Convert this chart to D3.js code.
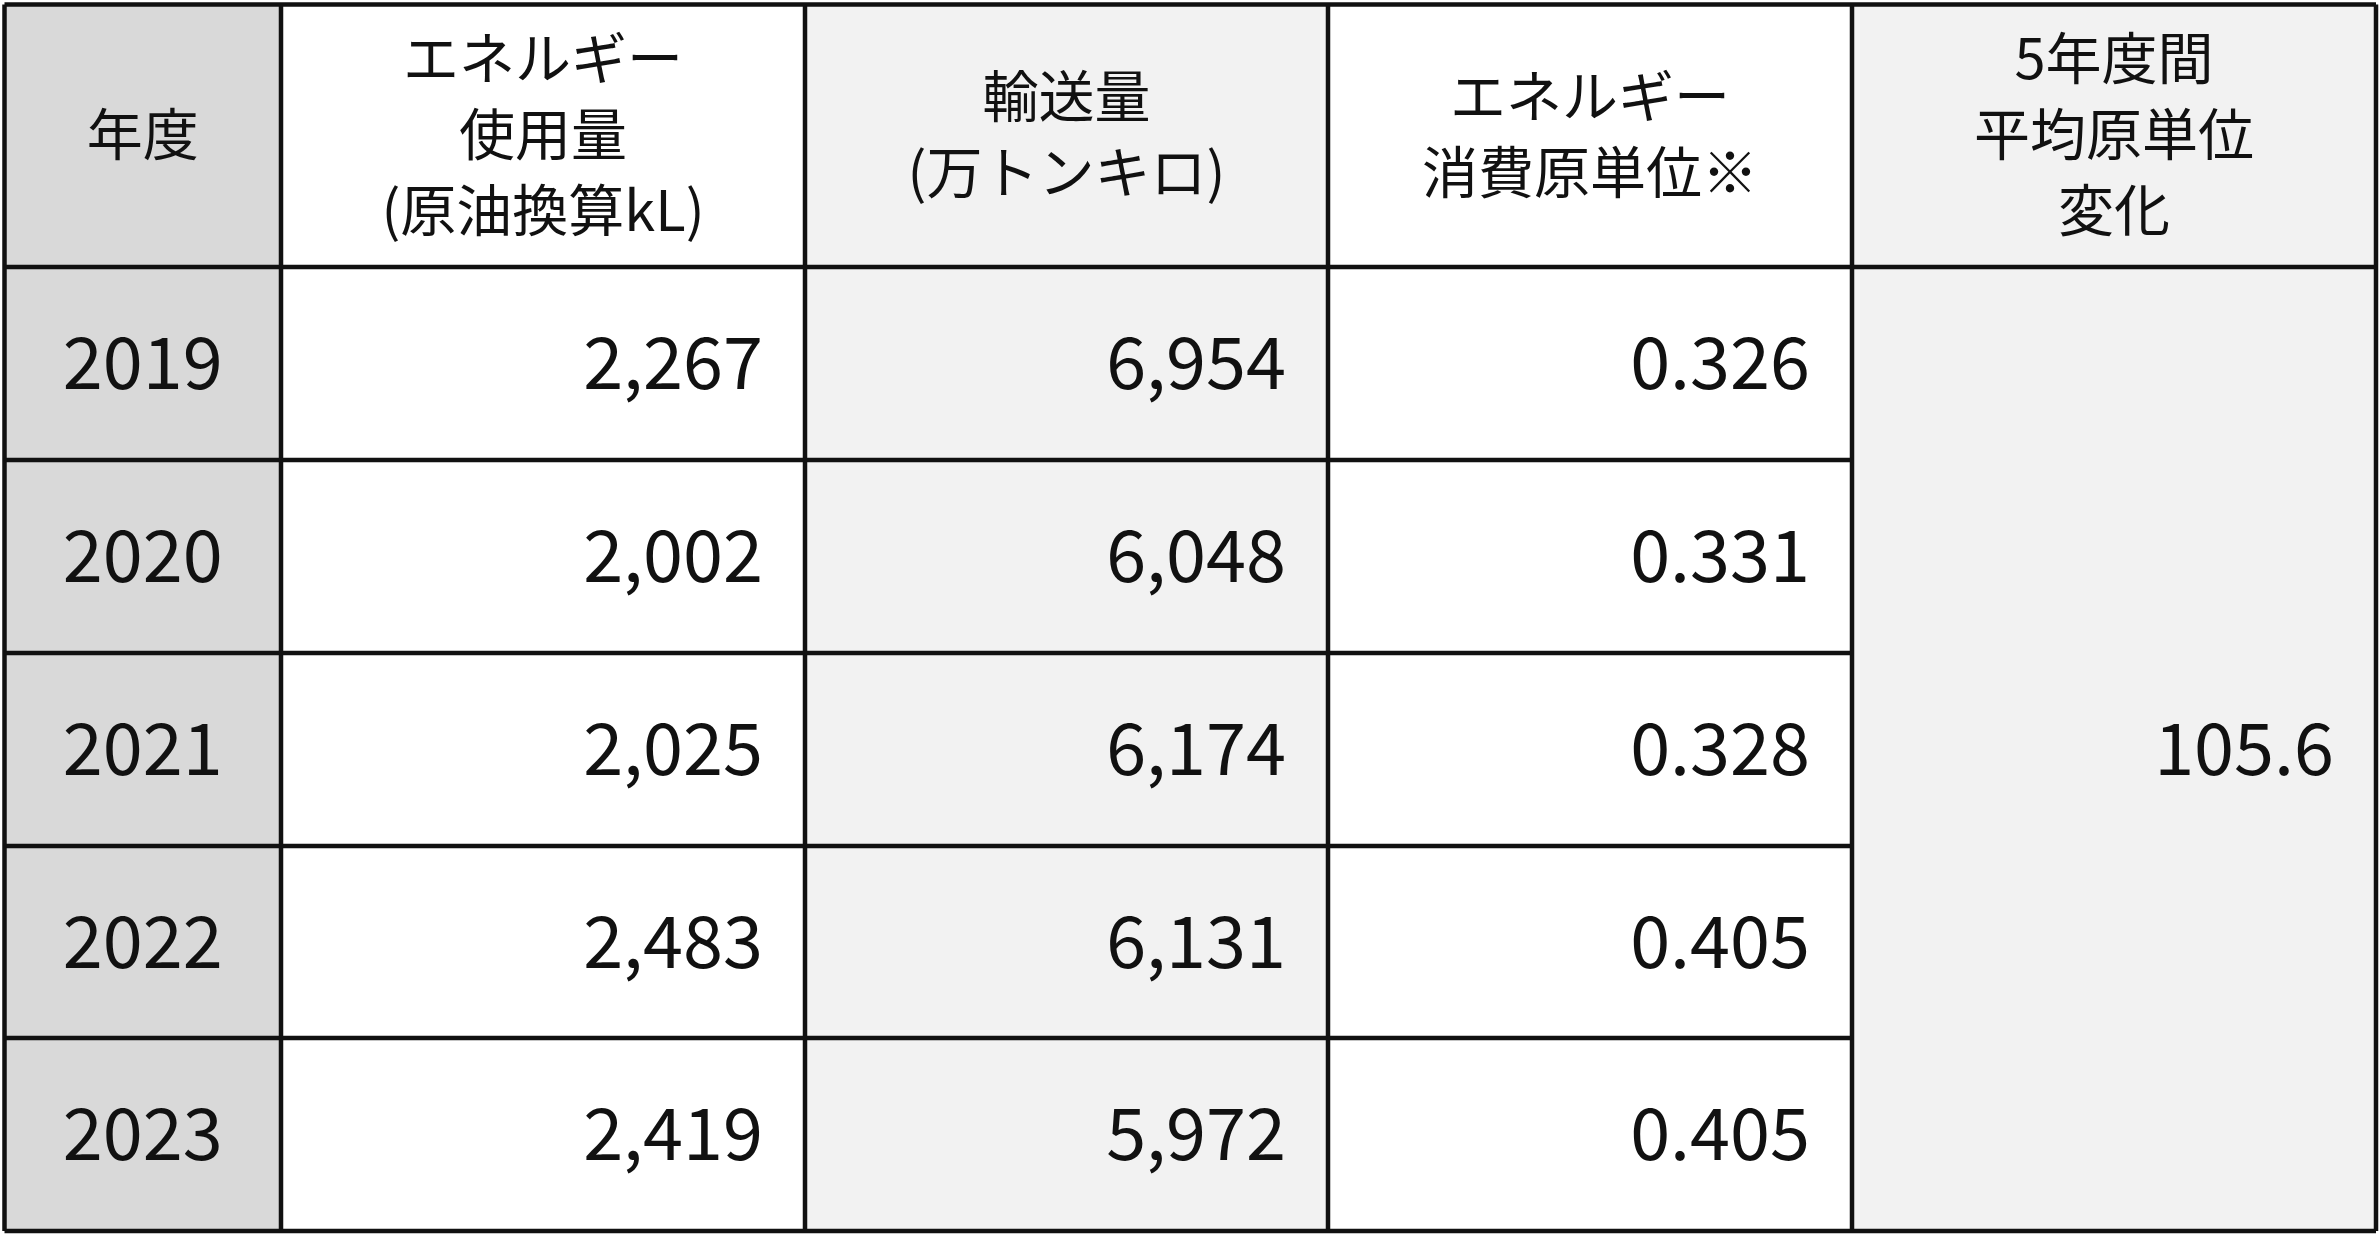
<!DOCTYPE html><html><head><meta charset="utf-8">
<script src="https://cdn.jsdelivr.net/npm/d3@7"></script>
<style>body{margin:0;background:#fff}</style></head><body><svg id="c" width="2380" height="1235"></svg>
<script>
const headers=[["年度"],["エネルギー","使用量","(原油換算kL)"],["輸送量","(万トンキロ)"],["エネルギー","消費原単位※"],["5年度間","平均原単位","変化"]];
const years=["2019","2020","2021","2022","2023"];
const energy=["2,267","2,002","2,025","2,483","2,419"];
const transport=["6,954","6,048","6,174","6,131","5,972"];
const intensity=["0.326","0.331","0.328","0.405","0.405"];
const avgChange="105.6";
const colX=[4.5,281,805,1328,1852,2376];
const rowY=[4.5,267,460,653,846,1038,1231];
const colFill=["#d9d9d9","#ffffff","#f2f2f2","#ffffff","#f2f2f2"];
const svg=d3.select("#c");
const F="'Noto Sans CJK JP','Noto Sans',sans-serif";
// backgrounds
for(let c=0;c<5;c++) svg.append("rect").attr("x",colX[c]).attr("y",rowY[0]).attr("width",colX[c+1]-colX[c]).attr("height",rowY[6]-rowY[0]).attr("fill",colFill[c]);
// header text
headers.forEach((lines,c)=>{
  const cx=(colX[c]+colX[c+1])/2, cy=(rowY[0]+rowY[1])/2, lh=76;
  lines.forEach((t,i)=>svg.append("text").attr("x",cx).attr("y",cy+(i-(lines.length-1)/2)*lh).attr("dy","0.35em")
    .attr("text-anchor","middle").attr("font-family",F).attr("font-size",56).attr("fill","#111").text(t));
});
const cols=[years,energy,transport,intensity];
cols.forEach((arr,c)=>arr.forEach((v,r)=>{
  const cy=(rowY[r+1]+rowY[r+2])/2;
  const t=svg.append("text").attr("y",cy).attr("dy","0.36em").attr("font-family",F).attr("font-size",72).attr("fill","#111").text(v);
  if(c===0) t.attr("x",(colX[0]+colX[1])/2).attr("text-anchor","middle");
  else t.attr("x",colX[c+1]-42).attr("text-anchor","end");
}));
svg.append("text").attr("x",colX[5]-42).attr("y",(rowY[1]+rowY[6])/2).attr("dy","0.36em").attr("text-anchor","end")
  .attr("font-family",F).attr("font-size",72).attr("fill","#111").text(avgChange);
// grid lines
const g=svg.append("g").attr("stroke","#111").attr("stroke-width",4.5);
colX.forEach(x=>g.append("line").attr("x1",x).attr("x2",x).attr("y1",rowY[0]).attr("y2",rowY[6]));
rowY.forEach((y,i)=>g.append("line").attr("x1",colX[0]).attr("x2",(i===0||i===1||i===6)?colX[5]:colX[4]).attr("y1",y).attr("y2",y));
</script></body></html>
